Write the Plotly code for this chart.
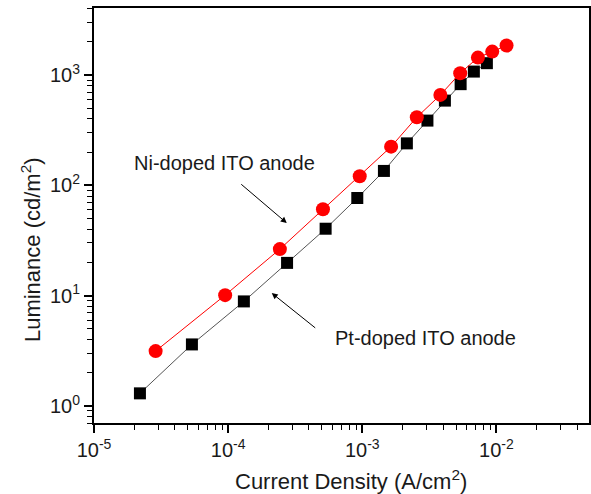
import numpy as np
import plotly.graph_objects as go

# Data
ni_current = [2.88e-5, 9.5e-5, 2.43e-4, 5.09e-4, 9.57e-4, 1.64e-3, 2.55e-3, 3.82e-3,
              5.37e-3, 7.28e-3, 9.31e-3, 1.19e-2]
ni_lum = [3.14, 10.1, 26.4, 60.6, 121, 224, 414, 660, 1038, 1438, 1630, 1849]

pt_current = [2.20e-5, 5.37e-5, 1.31e-4, 2.75e-4, 5.33e-4, 9.18e-4, 1.45e-3, 2.15e-3,
              3.06e-3, 4.13e-3, 5.41e-3, 6.79e-3, 8.49e-3]
pt_lum = [1.30, 3.61, 8.86, 19.8, 40.4, 76.7, 135, 240, 386, 586, 826, 1074, 1280]

x_tickvals = [1e-5, 1e-4, 1e-3, 1e-2]
x_ticktext = ["10<sup>-5</sup>", "10<sup>-4</sup>", "10<sup>-3</sup>", "10<sup>-2</sup>"]
y_tickvals = [1, 10, 100, 1000]
y_ticktext = ["10<sup>0</sup>", "10<sup>1</sup>", "10<sup>2</sup>", "10<sup>3</sup>"]

x_title = "Current Density (A/cm<sup>2</sup>)"
y_title = "Luminance (cd/m<sup>2</sup>)"

x_minor = [m * 10.0 ** e for e in range(-5, -1) for m in range(2, 10)]
y_minor = [m * 10.0 ** e for e in range(-1, 4) for m in range(2, 10)]

FONT = "Liberation Sans, Arial, sans-serif"
INK = "#1a1a1a"

fig = go.Figure()
fig.add_trace(go.Scatter(
    x=pt_current, y=pt_lum, mode="lines+markers", name="Pt-doped ITO anode",
    line=dict(color="#555555", width=1),
    marker=dict(symbol="square", size=12, color="#000000"),
))
fig.add_trace(go.Scatter(
    x=ni_current, y=ni_lum, mode="lines+markers", name="Ni-doped ITO anode",
    line=dict(color="#ff0000", width=1),
    marker=dict(symbol="circle", size=14, color="#ff0000"),
))

axis_common = dict(
    type="log", showgrid=False, zeroline=False,
    showline=True, linecolor="#000000", linewidth=2, mirror=True,
    ticks="outside", ticklen=8, tickwidth=1.5, tickcolor="#000000",
    tickfont=dict(family=FONT, size=20, color=INK),
    automargin=False,
)

fig.update_xaxes(
    **axis_common,
    range=[-5, np.log10(0.049)],
    tickmode="array", tickvals=x_tickvals, ticktext=x_ticktext,
    minor=dict(tickmode="array", tickvals=x_minor, ticks="outside", ticklen=5,
               tickwidth=1.2, tickcolor="#000000"),
)
fig.update_yaxes(
    **axis_common,
    range=[np.log10(0.7), np.log10(4050)],
    tickmode="array", tickvals=y_tickvals, ticktext=y_ticktext,
    minor=dict(tickmode="array", tickvals=y_minor, ticks="outside", ticklen=5,
               tickwidth=1.2, tickcolor="#000000"),
)

annotations = [
    # axis titles (placed as in the reference, slightly off-centre)
    dict(x=0.52, y=-0.137, xref="paper", yref="paper", text=x_title,
         showarrow=False, xanchor="center", yanchor="middle",
         font=dict(family=FONT, size=22, color=INK)),
    dict(x=-0.127, y=0.417, xref="paper", yref="paper", text=y_title,
         showarrow=False, xanchor="center", yanchor="middle", textangle=-90,
         font=dict(family=FONT, size=22, color=INK)),
    # series labels with arrows
    dict(x=-4.025, y=2.202, xref="x", yref="y", text="Ni-doped ITO anode",
         showarrow=False, font=dict(family=FONT, size=20, color=INK)),
    dict(x=-2.532, y=0.614, xref="x", yref="y", text="Pt-doped ITO anode",
         showarrow=False, font=dict(family=FONT, size=20, color=INK)),
    dict(x=-3.563, y=1.658, xref="x", yref="y", text="", showarrow=True,
         ax=-47, ay=-40, arrowhead=2, arrowsize=1.2, arrowwidth=1, arrowcolor="#000000"),
    dict(x=-3.675, y=1.023, xref="x", yref="y", text="", showarrow=True,
         ax=45, ay=36, arrowhead=2, arrowsize=1.2, arrowwidth=1, arrowcolor="#000000"),
]

fig.update_layout(
    width=591, height=494,
    margin=dict(l=94, r=2, t=8, b=71),
    paper_bgcolor="#ffffff", plot_bgcolor="#ffffff",
    showlegend=False,
    annotations=annotations,
    font=dict(family=FONT, color=INK),
)

fig.write_html(
    "out.html",
    config={"displayModeBar": False},
    post_script="document.body.style.margin='0';document.body.style.overflow='hidden';",
)
